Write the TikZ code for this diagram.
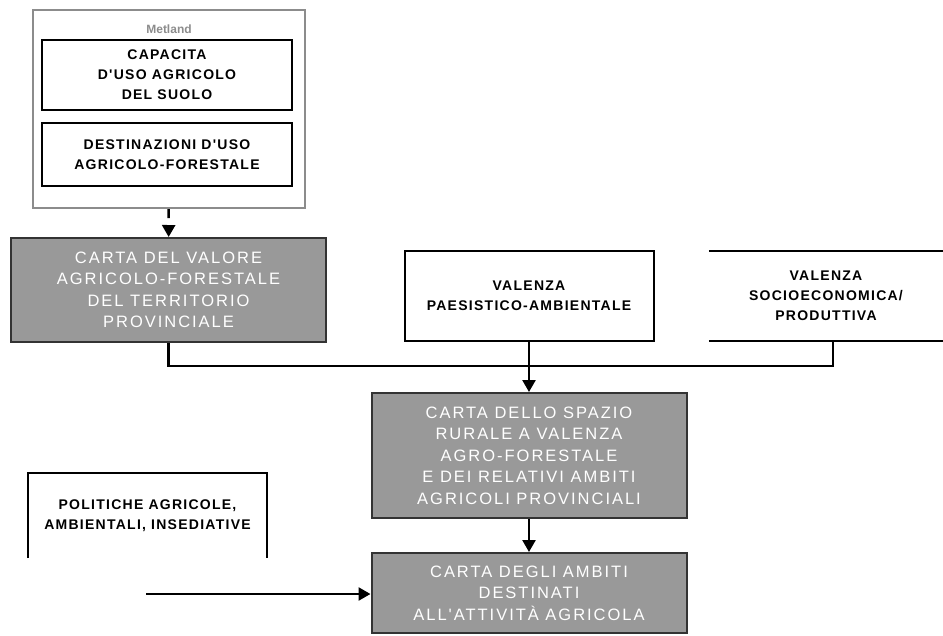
\documentclass[tikz,border=0pt]{standalone}
\usepackage{fontspec}
\setmainfont{Liberation Sans}
\newfontfamily\cartafont[LetterSpace=12]{Liberation Sans}
\newfontfamily\vocefont[LetterSpace=9]{Liberation Sans}
\usetikzlibrary{arrows.meta}
\definecolor{cartagray}{HTML}{999999}
\definecolor{framegray}{HTML}{8C8C8C}
\definecolor{edgegray}{HTML}{333333}

\begin{document}
\begin{tikzpicture}[
    x=1pt, y=-1pt,
    carta/.style = {draw=edgegray, line width=2pt, fill=cartagray, text=white, align=center, inner sep=0pt,
        minimum width=315pt, font=\cartafont\fontsize{16.5}{21.5}\selectfont},
    voce/.style = {align=center, inner sep=0pt, font=\vocefont\bfseries\fontsize{14}{20}\selectfont},
    riquadro/.style = {voce, draw=black, line width=2pt},
    link/.style = {line width=2.5pt},
    freccia/.style = {link, -{Triangle[width=13pt,length=12pt]}}
    ]
    \useasboundingbox (0,0) rectangle (943,635);

    \node[draw=framegray, line width=2pt, minimum width=272pt, minimum height=198pt] (metland) at (169,109) {};
    \node[font=\bfseries\fontsize{12}{14}\selectfont, text=framegray] (metlabel) at (169,29) {Metland};
    \node[riquadro, minimum width=250pt, minimum height=70pt] (capacita) at (167,75) {CAPACITA\\D'USO AGRICOLO\\DEL SUOLO};
    \node[riquadro, minimum width=250pt, minimum height=63pt] (destinazioni) at (167,154.5) {DESTINAZIONI D'USO\\AGRICOLO-FORESTALE};

    \node[carta, minimum height=104pt] (valore) at (168.5,290) {CARTA DEL VALORE\\AGRICOLO-FORESTALE\\DEL TERRITORIO\\PROVINCIALE};
    \node[riquadro, minimum width=249pt, minimum height=90pt] (paesistico) at (529,296) {VALENZA\\PAESISTICO-AMBIENTALE};
    \node[voce, minimum width=234pt, minimum height=90pt] (socio) at (826,296) {VALENZA\\SOCIOECONOMICA/\\PRODUTTIVA};
    \draw[line width=2pt] (socio.north west) -- (socio.north east) (socio.south west) -- (socio.south east);

    \node[carta, minimum height=125pt] (spazio) at (529,455.5) {CARTA DELLO SPAZIO\\RURALE A VALENZA\\AGRO-FORESTALE\\E DEI RELATIVI AMBITI\\AGRICOLI PROVINCIALI};
    \node[carta, minimum height=80pt] (ambiti) at (529,593) {CARTA DEGLI AMBITI\\DESTINATI\\ALL'ATTIVITÀ AGRICOLA};

    \node[voce, minimum width=239pt, minimum height=85pt] (politiche) at (147.5,515.5) {POLITICHE AGRICOLE,\\AMBIENTALI, INSEDIATIVE};
    \draw[line width=2pt] (politiche.south west) -- (politiche.north west) -- (politiche.north east) -- (politiche.south east);

    \coordinate (giunto) at (529,366);
    \coordinate (politichein) at (146,594);
    \draw[freccia, dash pattern=on 9pt off 20pt] (metland) -- (valore);
    \draw[link] (valore.south) |- ([xshift=7pt]socio.south |- giunto) -- ([xshift=7pt]socio.south);
    \draw[freccia] (paesistico.south) -- (spazio.north);
    \draw[freccia] (spazio) -- (ambiti);
    \draw[freccia] (politichein) -- (politichein -| ambiti.west);
\end{tikzpicture}
\end{document}
